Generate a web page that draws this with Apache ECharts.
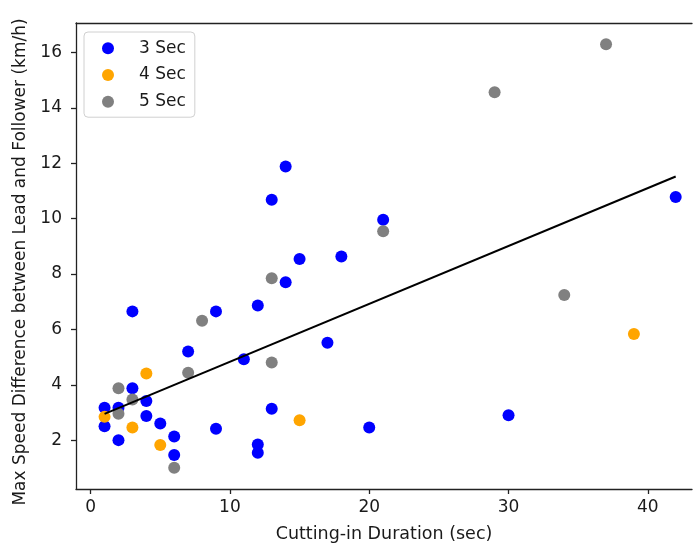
<!DOCTYPE html>
<html>
<head>
<meta charset="utf-8">
<script src="https://cdn.jsdelivr.net/npm/echarts@6/dist/echarts.min.js"></script>
<style>
  html, body { margin: 0; padding: 0; background: #fff; }
  #chart { width: 693px; height: 550px; }
</style>
</head>
<body>
<div id="chart"></div>
<script>
// Cutting-in duration (sec) vs. max speed difference (km/h), grouped by time gap
const sec3X = [1, 1, 2, 2, 3, 3, 4, 4, 5, 6, 6, 7, 9, 9, 11, 12, 12, 12, 13, 13, 14, 14, 15, 17, 18, 20, 21, 30, 42];
const sec3Y = [2.5, 3.17, 3.17, 2.0, 3.87, 6.65, 3.41, 2.87, 2.6, 2.13, 1.46, 5.2, 6.65, 2.41, 4.92, 6.86, 1.84, 1.54, 10.68, 3.13, 11.88, 7.7, 8.54, 5.52, 8.63, 2.46, 9.96, 2.9, 10.78];

const sec4X = [1, 3, 4, 5, 15, 39];
const sec4Y = [2.84, 2.46, 4.41, 1.82, 2.72, 5.83];

const sec5X = [2, 2, 3, 6, 7, 8, 13, 13, 21, 29, 34, 37];
const sec5Y = [3.87, 2.95, 3.47, 1.0, 4.43, 6.31, 7.85, 4.8, 9.54, 14.56, 7.24, 16.3];

// Fitted trend line end points
const trendX = [1, 42];
const trendY = [2.95, 11.52];

const xTicks = [0, 10, 20, 30, 40];
const yTicks = [2, 4, 6, 8, 10, 12, 14, 16];

const seriesNames = ['3 Sec', '4 Sec', '5 Sec'];
const seriesColors = ['#0000ff', '#ffa500', '#808080'];

const zip = (xs, ys) => xs.map((x, i) => [x, ys[i]]);

const FONT = '"DejaVu Sans", sans-serif';
const TEXT = '#1a1a1a';
const SPINE = { color: '#222', width: 1.3 };
const X_MIN = -1.05, X_MAX = 43.17;

const chart = echarts.init(document.getElementById('chart'), null, { renderer: 'canvas' });

const scatter = (name, xs, ys, color) => ({
  name: name,
  type: 'scatter',
  data: zip(xs, ys),
  symbol: 'circle',
  symbolSize: 12,
  itemStyle: { color: color, opacity: 1 },
  emphasis: { disabled: true },
  silent: true
});

chart.setOption({
  animation: false,
  backgroundColor: '#fff',
  textStyle: { fontFamily: FONT },
  grid: {
    left: 76,
    top: 23,
    right: 1,
    height: 466,
    show: false
  },
  legend: {
    orient: 'vertical',
    left: 84,
    top: 32,
    data: seriesNames.map(n => ({ name: n, icon: 'circle' })),
    itemWidth: 32,
    itemHeight: 12,
    itemGap: 9.7,
    padding: [7.8, 9, 7, 18],
    backgroundColor: '#fff',
    borderColor: '#d0d0d0',
    borderWidth: 1,
    borderRadius: 4,
    formatter: '{gap|}{name}',
    textStyle: {
      fontFamily: FONT, fontSize: 17, color: TEXT,
      rich: { gap: { width: 10 } }
    },
    selectedMode: false
  },
  xAxis: [
    {
      type: 'value',
      min: X_MIN,
      max: X_MAX,
      name: 'Cutting-in Duration (sec)',
      nameLocation: 'middle',
      nameGap: 36,
      nameTextStyle: { fontFamily: FONT, fontSize: 17.5, color: TEXT },
      splitLine: { show: false },
      axisLine: { show: true, onZero: false, lineStyle: SPINE },
      axisTick: { show: true, length: 5, lineStyle: SPINE, customValues: xTicks },
      axisLabel: { fontFamily: FONT, fontSize: 17, color: TEXT, margin: 10, customValues: xTicks }
    },
    {
      // top frame edge
      type: 'value',
      position: 'top',
      min: X_MIN,
      max: X_MAX,
      splitLine: { show: false },
      axisLine: { show: true, onZero: false, lineStyle: SPINE },
      axisTick: { show: false },
      axisLabel: { show: false }
    }
  ],
  yAxis: {
    type: 'value',
    min: 0.235,
    max: 17.065,
    name: 'Max Speed Difference between Lead and Follower (km/h)',
    nameLocation: 'middle',
    nameGap: 46,
    nameTextStyle: { fontFamily: FONT, fontSize: 17, color: TEXT, padding: [0, 12, 0, 0] },
    splitLine: { show: false },
    axisLine: { show: true, onZero: false, lineStyle: SPINE },
    axisTick: { show: true, length: 5, lineStyle: SPINE, customValues: yTicks },
    axisLabel: { fontFamily: FONT, fontSize: 17, color: TEXT, margin: 14, customValues: yTicks }
  },
  series: [
    scatter(seriesNames[0], sec3X, sec3Y, seriesColors[0]),
    scatter(seriesNames[1], sec4X, sec4Y, seriesColors[1]),
    scatter(seriesNames[2], sec5X, sec5Y, seriesColors[2]),
    {
      name: 'trend',
      type: 'line',
      data: zip(trendX, trendY),
      symbol: 'none',
      lineStyle: { color: '#000', width: 2 },
      z: 5,
      silent: true
    }
  ]
});
</script>
</body>
</html>
